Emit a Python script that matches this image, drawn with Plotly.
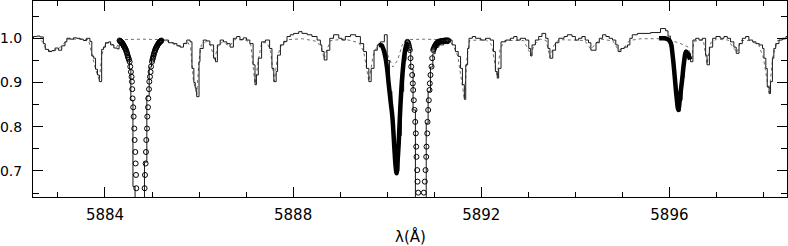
import plotly.graph_objects as go

# Observed spectrum (step histogram): wavelength (A), normalised flux
spec_wl = [5882.41, 5882.48, 5882.55, 5882.62, 5882.69, 5882.73, 5882.80, 5882.87, 5882.94, 5883.01,
           5883.08, 5883.15, 5883.19, 5883.26, 5883.33, 5883.40, 5883.47, 5883.54, 5883.61, 5883.68,
           5883.72, 5883.76, 5883.80, 5883.84, 5883.88, 5883.93, 5883.97, 5884.01, 5884.08, 5884.12,
           5884.19, 5884.26, 5884.30, 5884.36, 5884.42, 5884.47, 5884.52, 5884.55, 5884.595, 5884.64,
           5884.84, 5884.89, 5884.94, 5884.99, 5885.04, 5885.09, 5885.14, 5885.21, 5885.28, 5885.35,
           5885.46, 5885.53, 5885.60, 5885.67, 5885.74, 5885.81, 5885.85, 5885.89, 5885.92, 5885.95,
           5886.00, 5886.02, 5886.09, 5886.16, 5886.23, 5886.31, 5886.35, 5886.39, 5886.45, 5886.52,
           5886.59, 5886.66, 5886.73, 5886.80, 5886.87, 5886.94, 5887.01, 5887.08, 5887.15, 5887.19,
           5887.22, 5887.26, 5887.33, 5887.41, 5887.50, 5887.55, 5887.59, 5887.64, 5887.67, 5887.73,
           5887.80, 5887.87, 5887.94, 5888.01, 5888.12, 5888.19, 5888.30, 5888.40, 5888.51, 5888.58,
           5888.61, 5888.66, 5888.72, 5888.78, 5888.86, 5888.97, 5889.04, 5889.11, 5889.22, 5889.33,
           5889.43, 5889.50, 5889.56, 5889.61, 5889.66, 5889.72, 5889.79, 5889.86, 5889.94, 5890.00,
           5890.05, 5890.10, 5890.15, 5890.20, 5890.25, 5890.30, 5890.35, 5890.40, 5890.45, 5890.50,
           5890.55, 5890.60, 5890.83, 5890.87, 5890.92, 5890.97, 5891.02, 5891.10, 5891.20, 5891.31,
           5891.38, 5891.45, 5891.51, 5891.56, 5891.60, 5891.64, 5891.67, 5891.71, 5891.74, 5891.81,
           5891.88, 5891.99, 5892.09, 5892.19, 5892.26, 5892.30, 5892.34, 5892.37, 5892.42, 5892.52,
           5892.62, 5892.69, 5892.76, 5892.83, 5892.94, 5893.01, 5893.05, 5893.08, 5893.15, 5893.22,
           5893.29, 5893.37, 5893.42, 5893.46, 5893.52, 5893.58, 5893.65, 5893.76, 5893.83, 5893.93,
           5894.00, 5894.07, 5894.14, 5894.21, 5894.28, 5894.33, 5894.44, 5894.51, 5894.58, 5894.65,
           5894.72, 5894.79, 5894.86, 5894.91, 5894.97, 5895.04, 5895.11, 5895.16, 5895.21, 5895.32,
           5895.60, 5895.81, 5895.92, 5895.97, 5896.02, 5896.07, 5896.11, 5896.15, 5896.19, 5896.23,
           5896.27, 5896.31, 5896.35, 5896.38, 5896.45, 5896.50, 5896.56, 5896.63, 5896.70, 5896.77,
           5896.80, 5896.85, 5896.92, 5896.99, 5897.08, 5897.16, 5897.23, 5897.30, 5897.37, 5897.42,
           5897.48, 5897.55, 5897.62, 5897.69, 5897.77, 5897.84, 5897.91, 5897.98, 5898.01, 5898.05,
           5898.08, 5898.12, 5898.15, 5898.19, 5898.22, 5898.26, 5898.33, 5898.40, 5898.48, 5898.55]
spec_flux = [1.000, 1.004, 1.005, 1.003, 0.988, 0.975, 0.970, 0.972, 0.978, 0.973,
             0.983, 0.992, 1.000, 0.998, 1.001, 1.000, 0.998, 0.995, 1.000, 0.993,
             0.960, 0.955, 0.930, 0.917, 0.902, 0.975, 0.980, 0.990, 0.992, 0.985,
             0.978, 0.976, 0.985, 0.990, 0.978, 0.962, 0.930, 0.860, 0.665, 0.300,
             0.720, 0.870, 0.935, 0.960, 0.978, 0.988, 0.995, 0.996, 0.996, 0.990,
             0.988, 0.983, 0.980, 0.988, 0.996, 0.992, 0.932, 0.900, 0.887, 0.868,
             0.947, 0.977, 0.996, 0.994, 0.985, 0.955, 0.947, 0.985, 0.996, 0.992,
             0.988, 0.980, 1.000, 1.004, 0.997, 1.001, 0.996, 0.988, 0.940, 0.895,
             0.917, 0.955, 0.992, 0.996, 0.977, 0.932, 0.902, 0.925, 0.962, 0.985,
             0.993, 1.004, 1.008, 1.011, 1.015, 1.011, 1.008, 1.004, 0.996, 0.985,
             0.970, 0.951, 0.973, 1.000, 1.008, 1.000, 0.996, 1.004, 1.008, 1.004,
             0.988, 0.970, 0.932, 0.902, 0.932, 0.973, 0.985, 0.992, 1.008, 0.950,
             0.880, 0.800, 0.720, 0.700, 0.780, 0.880, 0.950, 0.985, 0.975, 0.930,
             0.838, 0.300, 0.808, 0.880, 0.935, 0.965, 0.980, 0.985, 0.988, 0.996,
             0.985, 0.970, 0.959, 0.932, 0.895, 0.862, 0.940, 0.977, 1.000, 1.004,
             1.000, 0.996, 1.000, 0.996, 0.970, 0.925, 0.910, 0.932, 0.992, 0.996,
             1.000, 1.004, 0.996, 1.000, 0.996, 0.977, 0.960, 0.985, 0.996, 1.004,
             1.011, 1.000, 0.977, 0.955, 0.973, 0.990, 1.000, 1.004, 1.008, 1.004,
             0.996, 1.000, 1.004, 0.996, 0.990, 0.973, 0.990, 1.000, 1.008, 1.004,
             1.000, 0.996, 0.985, 0.970, 0.977, 0.980, 0.985, 1.000, 1.008, 1.011,
             1.013, 1.022, 1.017, 1.005, 0.985, 0.950, 0.910, 0.860, 0.835, 0.860,
             0.910, 0.950, 0.970, 0.966, 0.947, 0.996, 1.000, 0.996, 1.000, 0.962,
             0.940, 0.980, 1.000, 1.004, 1.000, 1.004, 1.000, 0.992, 0.980, 0.966,
             0.988, 1.000, 1.004, 0.996, 0.992, 0.988, 0.985, 0.977, 0.955, 0.932,
             0.890, 0.875, 0.902, 0.955, 0.977, 0.988, 0.996, 1.000, 1.004, 1.004]

# Telluric / continuum model (dashed)
model_wl = [5882.41, 5882.60, 5882.69, 5882.75, 5882.85, 5883.00, 5883.10, 5883.20, 5883.50, 5883.65,
            5883.72, 5883.80, 5883.88, 5883.93, 5884.00, 5884.10, 5884.25, 5884.30, 5884.40, 5884.80,
            5885.20, 5885.30, 5885.50, 5885.60, 5885.75, 5885.82, 5885.88, 5885.95, 5886.00, 5886.05,
            5886.15, 5886.25, 5886.33, 5886.39, 5886.50, 5886.65, 5886.75, 5887.00, 5887.10, 5887.19,
            5887.26, 5887.33, 5887.45, 5887.52, 5887.60, 5887.67, 5887.75, 5887.90, 5888.20, 5888.50,
            5888.60, 5888.66, 5888.72, 5888.80, 5889.10, 5889.40, 5889.50, 5889.61, 5889.70, 5889.80,
            5889.90, 5890.00, 5890.12, 5890.22, 5890.32, 5890.42, 5890.80, 5891.30, 5891.40, 5891.50,
            5891.58, 5891.64, 5891.70, 5891.75, 5892.10, 5892.22, 5892.34, 5892.40, 5892.50, 5892.90,
            5893.02, 5893.06, 5893.12, 5893.25, 5893.38, 5893.46, 5893.55, 5893.65, 5894.20, 5894.33,
            5894.45, 5894.55, 5894.80, 5894.92, 5895.05, 5895.15, 5895.40, 5895.80, 5896.00, 5896.20,
            5896.40, 5896.47, 5896.52, 5896.72, 5896.80, 5896.88, 5897.00, 5897.25, 5897.35, 5897.44,
            5897.52, 5897.70, 5897.90, 5898.00, 5898.12, 5898.20, 5898.30, 5898.55]
model_flux = [0.998, 1.000, 0.990, 0.975, 0.971, 0.975, 0.985, 0.998, 0.998, 0.997,
              0.965, 0.930, 0.905, 0.960, 0.988, 0.990, 0.980, 0.990, 0.997, 0.998,
              0.997, 0.995, 0.985, 0.982, 0.993, 0.980, 0.905, 0.872, 0.950, 0.985,
              0.993, 0.983, 0.950, 0.980, 0.992, 0.982, 0.997, 0.996, 0.985, 0.897,
              0.950, 0.990, 0.990, 0.970, 0.903, 0.960, 0.985, 0.997, 0.999, 0.993,
              0.980, 0.953, 0.975, 0.995, 0.998, 0.990, 0.970, 0.903, 0.960, 0.985,
              0.990, 0.965, 0.935, 0.950, 0.985, 0.997, 0.998, 0.996, 0.985, 0.960,
              0.910, 0.864, 0.960, 0.995, 0.997, 0.985, 0.912, 0.975, 0.995, 0.995,
              0.970, 0.962, 0.985, 0.998, 0.995, 0.957, 0.985, 0.997, 0.995, 0.975,
              0.990, 0.998, 0.994, 0.972, 0.980, 0.995, 0.999, 0.999, 0.995, 0.990,
              0.980, 0.950, 0.993, 0.997, 0.942, 0.990, 0.998, 0.996, 0.980, 0.968,
              0.995, 0.995, 0.985, 0.955, 0.877, 0.960, 0.995, 1.000]

# Open-circle profile fits (two saturated components)
circ_wl = [5884.31, 5884.32, 5884.33, 5884.34, 5884.35, 5884.36, 5884.37, 5884.38, 5884.39, 5884.40,
           5884.41, 5884.42, 5884.43, 5884.44, 5884.45, 5884.46, 5884.47, 5884.48, 5884.49, 5884.50,
           5884.51, 5884.524, 5884.538, 5884.552, 5884.566, 5884.573, 5884.580, 5884.587, 5884.600, 5884.609,
           5884.623, 5884.630, 5884.645, 5884.652, 5884.660, 5884.666,
           5884.843, 5884.851, 5884.864, 5884.872, 5884.879, 5884.894, 5884.900, 5884.915, 5884.921, 5884.936,
           5884.943, 5884.957, 5884.970, 5884.979, 5885.000, 5885.01, 5885.02, 5885.03, 5885.04, 5885.05,
           5885.06, 5885.07, 5885.08, 5885.09, 5885.10, 5885.11, 5885.12, 5885.13, 5885.14, 5885.15,
           5885.16, 5885.17, 5885.18, 5885.19, 5885.20,
           5890.43, 5890.44, 5890.45, 5890.46, 5890.47, 5890.481, 5890.496, 5890.511, 5890.532, 5890.545,
           5890.553, 5890.566, 5890.581, 5890.596, 5890.609, 5890.617, 5890.623, 5890.638, 5890.645, 5890.660,
           5890.779, 5890.800, 5890.815, 5890.830, 5890.836, 5890.851, 5890.857, 5890.872, 5890.885, 5890.900,
           5890.906, 5890.921, 5890.943, 5890.957, 5890.979, 5890.99, 5891.00, 5891.01, 5891.02, 5891.03,
           5891.04, 5891.05, 5891.06, 5891.07, 5891.08, 5891.09, 5891.10, 5891.12, 5891.14, 5891.16,
           5891.18, 5891.20, 5891.22, 5891.24, 5891.26, 5891.28, 5891.30]
circ_flux = [0.995, 0.994, 0.993, 0.992, 0.991, 0.990, 0.988, 0.987, 0.985, 0.983,
             0.981, 0.979, 0.977, 0.975, 0.972, 0.969, 0.966, 0.962, 0.958, 0.955,
             0.952, 0.947, 0.936, 0.924, 0.913, 0.902, 0.885, 0.864, 0.844, 0.823,
             0.796, 0.770, 0.743, 0.717, 0.691, 0.661,
             0.661, 0.691, 0.717, 0.743, 0.770, 0.796, 0.823, 0.844, 0.864, 0.885,
             0.902, 0.913, 0.924, 0.936, 0.947, 0.952, 0.956, 0.960, 0.964, 0.968,
             0.971, 0.974, 0.977, 0.979, 0.981, 0.983, 0.985, 0.987, 0.988, 0.990,
             0.991, 0.992, 0.993, 0.994, 0.995,
             0.992, 0.990, 0.987, 0.983, 0.978, 0.9735, 0.955, 0.936, 0.917, 0.898,
             0.883, 0.860, 0.838, 0.811, 0.785, 0.755, 0.732, 0.702, 0.676, 0.651,
             0.651, 0.676, 0.702, 0.732, 0.755, 0.785, 0.811, 0.838, 0.860, 0.883,
             0.898, 0.917, 0.936, 0.955, 0.9735, 0.976, 0.979, 0.981, 0.983, 0.985,
             0.987, 0.988, 0.989, 0.990, 0.991, 0.992, 0.992, 0.993, 0.993, 0.994,
             0.994, 0.994, 0.995, 0.995, 0.995, 0.995, 0.995]

# Thick-line fits of the two narrow components
fit1_wl = [5889.82, 5889.88, 5889.92, 5889.96, 5890.00, 5890.03, 5890.07, 5890.11, 5890.155, 5890.18,
           5890.20, 5890.22, 5890.245, 5890.28, 5890.32, 5890.37, 5890.40, 5890.43]
fit1_flux = [0.985, 0.984, 0.975, 0.958, 0.930, 0.899, 0.860, 0.823, 0.747, 0.710,
             0.695, 0.720, 0.763, 0.845, 0.913, 0.966, 0.983, 0.992]
fit2_wl = [5895.78, 5895.90, 5895.98, 5896.03, 5896.07, 5896.11, 5896.15, 5896.19, 5896.23, 5896.27,
           5896.31, 5896.35, 5896.39, 5896.44]
fit2_flux = [1.000, 1.000, 0.997, 0.989, 0.960, 0.917, 0.870, 0.838, 0.870, 0.906,
             0.945, 0.970, 0.965, 0.952]

x_tickvals = [5884, 5888, 5892, 5896]
y_tickvals = [0.7, 0.8, 0.9, 1.0]
y_ticktext = ["0.7", "0.8", "0.9", "1.0"]
x_title = "λ(Å)"

fig = go.Figure()
fig.add_trace(go.Scatter(x=model_wl, y=model_flux, mode="lines",
                         line=dict(color="#6e6e6e", width=1, dash="3px,3px"),
                         showlegend=False, hoverinfo="skip"))
fig.add_trace(go.Scatter(x=spec_wl, y=spec_flux, mode="lines",
                         line=dict(color="#1a1a1a", width=1, shape="hv"),
                         showlegend=False))
fig.add_trace(go.Scatter(x=fit1_wl, y=fit1_flux, mode="lines",
                         line=dict(color="black", width=4.5, shape="spline"),
                         showlegend=False))
fig.add_trace(go.Scatter(x=fit2_wl, y=fit2_flux, mode="lines",
                         line=dict(color="black", width=4.5, shape="spline"),
                         showlegend=False))
fig.add_trace(go.Scatter(x=circ_wl, y=circ_flux, mode="markers",
                         marker=dict(symbol="circle-open", size=5, color="black",
                                     line=dict(width=1, color="black")),
                         showlegend=False))

axis_font = dict(family="DejaVu Sans", size=15, color="black")
yaxis_font = dict(family="DejaVu Sans", size=14, color="black")
fig.update_layout(
    width=788, height=246,
    margin=dict(l=33, r=1, t=1, b=49),
    paper_bgcolor="white", plot_bgcolor="white",
    font=axis_font,
    xaxis=dict(range=[5882.47, 5898.50], tickvals=x_tickvals, ticks="inside", ticklen=10,
               tickcolor="black", tickwidth=1, showline=True, linecolor="black", linewidth=1,
               mirror="ticks", showgrid=False, zeroline=False, tickfont=axis_font,
               ticklabelstandoff=4, automargin=False,
               minor=dict(dtick=1, ticks="inside", ticklen=5, tickcolor="black", tickwidth=1, showgrid=False)),
    yaxis=dict(range=[0.6412, 1.0843], tickvals=y_tickvals, ticktext=y_ticktext, ticks="inside",
               ticklen=10, tickcolor="black", tickwidth=1, showline=True, linecolor="black",
               linewidth=1, mirror="ticks", showgrid=False, zeroline=False, tickfont=yaxis_font,
               ticklabelstandoff=7, automargin=False,
               minor=dict(tickvals=[0.65, 0.75, 0.85, 0.95, 1.05], ticks="inside", ticklen=6,
                          tickcolor="black", tickwidth=1, showgrid=False)),
    annotations=[dict(text=x_title, xref="paper", yref="paper", x=0.5, y=-0.204,
                      xanchor="center", yanchor="middle", showarrow=False, font=axis_font)],
)
fig.write_html("out.html", config={"displayModeBar": False},
               post_script="document.body.style.margin='0px';")
